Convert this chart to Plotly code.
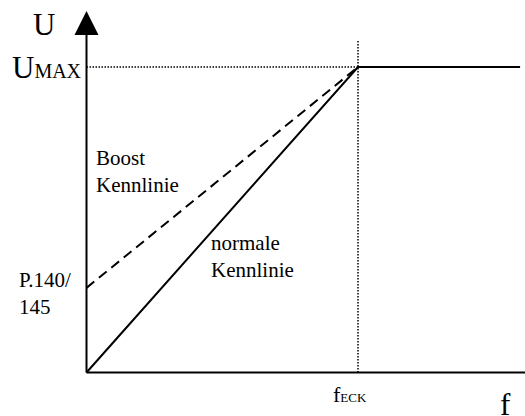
import plotly.graph_objects as go

# ---- data (normalised units: f_ECK = 1, U_MAX = 1) ----
f_eck = 1.0
u_max = 1.0
u_boost = 0.277          # P.140/145 boost start value
f_end = 1.597            # end of the flat part

normal_f = [0.0, f_eck, f_end]
normal_u = [0.0, u_max, u_max]

boost_f = [0.0, f_eck]
boost_u = [u_boost, u_max]

guide_h_f = [0.0, 1.166]
guide_h_u = [u_max, u_max]
guide_v_f = [f_eck, f_eck]
guide_v_u = [0.0, 1.085]

axis_x_f = [0.0, 1.62]
axis_x_u = [0.0, 0.0]
axis_y_f = [0.0, 0.0]
axis_y_u = [0.0, 1.15]
arrow_x_tip = (1.645, 0.0)
arrow_y_tip = (0.0, 1.183)

# ---- layout geometry ----
W, H = 525, 416
FONT = "Liberation Serif, Times New Roman, serif"
x_range = [-0.3186, 1.6151]
y_range = [-0.1424, 1.2193]

fig = go.Figure()

def line(xs, ys, width=2, dash="solid"):
    fig.add_trace(go.Scatter(x=xs, y=ys, mode="lines",
                             line=dict(color="black", width=width, dash=dash),
                             hoverinfo="skip", showlegend=False, cliponaxis=False))

line(guide_h_f, guide_h_u, width=1.5, dash="1.5px,1.5px")
line(guide_v_f, guide_v_u, width=1.5, dash="1.5px,1.5px")
line(axis_x_f, axis_x_u, width=2)
line(axis_y_f, axis_y_u, width=2)
line(boost_f, boost_u, width=2, dash="10px,6px")
line(normal_f, normal_u, width=2)

fig.add_trace(go.Scatter(x=[arrow_y_tip[0]], y=[arrow_y_tip[1]], mode="markers",
                         marker=dict(symbol="arrow-up", size=24, color="black"),
                         hoverinfo="skip", showlegend=False, cliponaxis=False))
fig.add_trace(go.Scatter(x=[arrow_x_tip[0]], y=[arrow_x_tip[1]], mode="markers",
                         marker=dict(symbol="arrow-right", size=24, color="black"),
                         hoverinfo="skip", showlegend=False, cliponaxis=False))

def ann(text, left_px, baseline_px, size):
    return dict(text=text, xref="paper", yref="paper",
                x=left_px / W, y=1 - (baseline_px - 0.891 * size) / H,
                xanchor="left", yanchor="top", align="left",
                showarrow=False, borderpad=0, borderwidth=0,
                font=dict(family=FONT, size=size, color="black"))

annotations = [
    ann("U", 33, 35, 31),
    ann("U<span style='font-size:20px'>MAX</span>", 12, 78, 31),
    ann("Boost<br>Kennlinie", 96, 165, 21),
    ann("normale<br>Kennlinie", 211, 250, 21),
    ann("P.140/<br>145", 19, 287, 21),
    ann("f<span style='font-size:13px'>ECK</span>", 333, 402, 22),
    ann("f", 500, 415, 31),
]

fig.update_layout(
    width=W, height=H, autosize=False,
    margin=dict(l=0, r=0, t=0, b=0, pad=0),
    paper_bgcolor="white", plot_bgcolor="white",
    xaxis=dict(visible=False, range=x_range, fixedrange=True),
    yaxis=dict(visible=False, range=y_range, fixedrange=True),
    annotations=annotations,
    showlegend=False,
)

fig.write_html("out.html", config={"displayModeBar": False},
               post_script="document.body.style.margin='0px';document.body.style.overflow='hidden';")
